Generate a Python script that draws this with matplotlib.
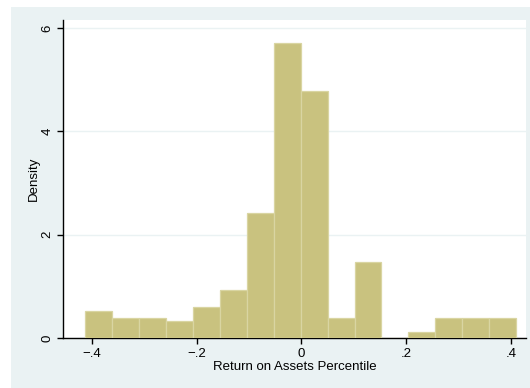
import matplotlib
matplotlib.use("Agg")
import matplotlib.pyplot as plt
from matplotlib.patches import Rectangle
import numpy as np

plt.rcParams['font.family'] = ['Liberation Sans', 'DejaVu Sans']

# Histogram data (density per bin)
bin_start = -0.4127
bin_width = 0.0514
densities = [0.52, 0.39, 0.39, 0.33, 0.60, 0.93, 2.42, 5.71, 4.78,
             0.39, 1.47, 0.0, 0.12, 0.39, 0.39, 0.39]
x_ticks = [-0.4, -0.2, 0.0, 0.2, 0.4]
x_tick_labels = ["\u2212.4", "\u2212.2", "0", ".2", ".4"]
y_ticks = [0, 2, 4, 6]
y_tick_labels = ["0", "2", "4", "6"]
x_label = "Return on Assets Percentile"
y_label = "Density"

W, H = 530, 388
fig = plt.figure(figsize=(W / 100, H / 100), dpi=100)
fig.patch.set_facecolor("white")
fig.patches.append(Rectangle((11 / W, 0), (W - 11) / W, (H - 7) / H,
                             transform=fig.transFigure, facecolor="#eaf2f3",
                             edgecolor="none", zorder=-10))

ax = fig.add_axes([63 / W, (H - 338) / H, (526 - 63) / W, (338 - 20) / H])
ax.set_facecolor("white")

lefts = bin_start + bin_width * np.arange(len(densities))
ax.bar(lefts, densities, width=bin_width, align="edge",
       color="#c9c27f", edgecolor="#d9d5a2", linewidth=0.9, zorder=3)

ax.set_xlim(-0.4552, 0.4286)
ax.set_ylim(0, 6.155)

ax.set_yticks(y_ticks)
ax.set_yticklabels(y_tick_labels, rotation=90, va="center")
ax.set_xticks(x_ticks)
ax.set_xticklabels(x_tick_labels)
ax.yaxis.grid(True, color="#eaf2f3", linewidth=1.0, zorder=0)
ax.set_axisbelow(True)

for s in ["top", "right"]:
    ax.spines[s].set_visible(False)
for s in ["left", "bottom"]:
    ax.spines[s].set_color("black")
    ax.spines[s].set_linewidth(1.0)

ax.tick_params(axis="both", direction="out", length=4, width=1,
               color="black", labelsize=9.5, labelcolor="black", pad=3)

ax.set_xlabel(x_label, fontsize=9.5, labelpad=1)
ax.set_ylabel(y_label, fontsize=9.5, labelpad=1)

fig.savefig("out.png", dpi=100, facecolor=fig.get_facecolor())
